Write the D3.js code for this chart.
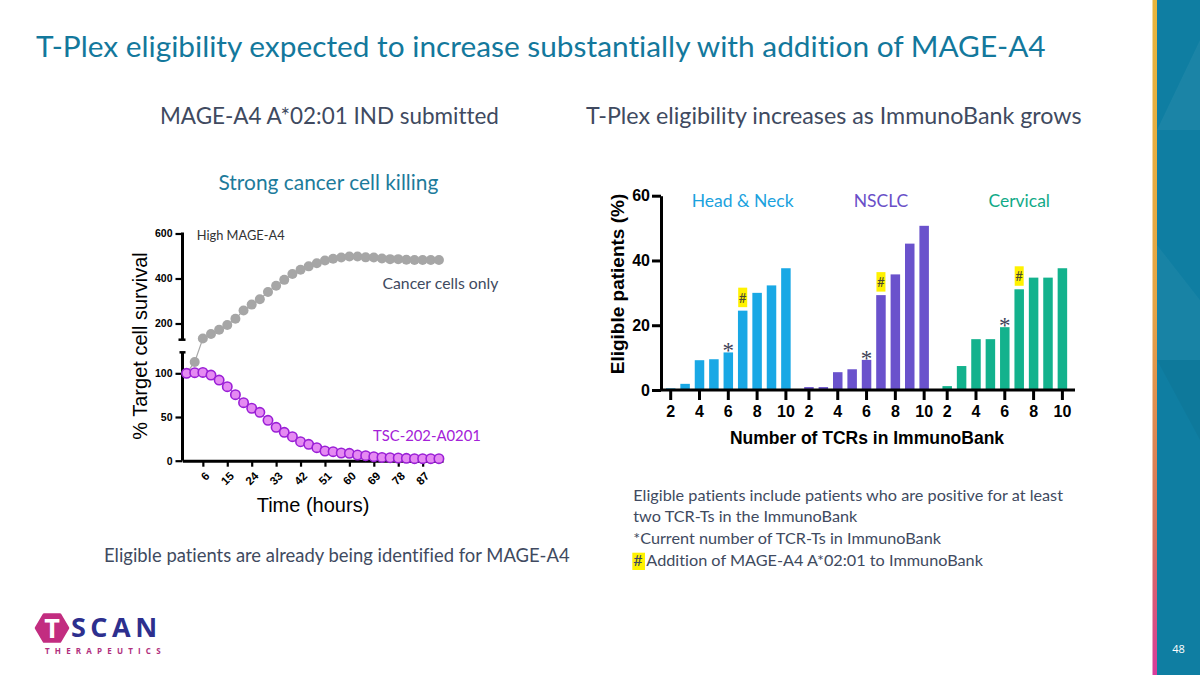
<!DOCTYPE html>
<html>
<head>
<meta charset="utf-8">
<script src="https://cdn.jsdelivr.net/npm/d3@7"></script>
<style>
  html, body { margin: 0; padding: 0; background: #fff; }
  svg { display: block; }
  text { font-variant-ligatures: none; font-feature-settings: "liga" 0, "clig" 0; }
</style>
</head>
<body>
<script>
// ---------- DATA ----------
// Left chart: cell survival over time
const hours = [0,3,6,9,12,15,18,21,24,27,30,33,36,39,42,45,48,51,54,57,60,63,66,69,72,75,78,81,84,87,90,93];
const cancerOnly = [100,113,133,153,172,193,221,258,284,308,340,368,394,420,439,454,468,480,488,493,498,498,494,493,489,486,486,483,482,482,482,482];
const tsc202 = [100,100.7,101,98,92.3,84.7,75.5,66.4,60,55.4,46.2,38.2,32.5,27.5,21.7,18.7,14.9,11.1,10.3,8.8,8.4,6.5,5.7,4.6,3.8,3.4,3.1,2.7,2.3,2.3,2.3,2.3];
const timeTicks = [6,15,24,33,42,51,60,69,78,87];
const upperTicks = [200,400,600];
const lowerTicks = [0,50,100];

// Right chart: eligible patients by number of TCRs
const groups = ["Head & Neck","NSCLC","Cervical"];
const tcrCounts = [2,3,4,5,6,7,8,9,10];
const headNeck = [0.5,1.9,9.2,9.5,11.6,24.5,30.0,32.3,37.6];
const nsclc = [0.9,0.9,5.5,6.4,9.3,29.3,35.7,45.2,50.7];
const cervical = [1.2,7.4,15.7,15.7,19.4,31.1,34.7,34.7,37.6];
const currentCount = 6;   // "*"
const mageCount = 7;      // "#"
const tcrTicks = [2,4,6,8,10];
const eligTicks = [0,20,40,60];

// ---------- SETUP ----------
const CAL = "Lato, 'Open Sans', sans-serif";
const ARIAL = "'Liberation Sans', Arial, sans-serif";
const SLATE = "#404a60";

const svg = d3.select("body").append("svg").attr("width",1200).attr("height",675);

function txt(g, s, o) {
  const size = o.size || 16;
  const t = g.append("text").text(s)
    .attr("x", o.x).attr("y", o.y)
    .attr("font-family", o.family || CAL)
    .attr("font-size", size)
    .attr("font-weight", o.weight || 400)
    .attr("fill", o.color || SLATE)
    .attr("text-anchor", o.anchor || "start");
  if (o.spacing) t.attr("letter-spacing", o.spacing);
  if (o.width) {
    const w = t.node().getComputedTextLength();
    if (w > 0) t.attr("font-size", size * o.width / w);
  }
  return t;
}

// ---------- RIGHT DECORATIVE PANEL ----------
const defs = svg.append("defs");
const grad = defs.append("linearGradient").attr("id","stripe").attr("x1",0).attr("y1",0).attr("x2",0).attr("y2",1);
grad.append("stop").attr("offset","0%").attr("stop-color","#e8b43c");
grad.append("stop").attr("offset","45%").attr("stop-color","#e5a445");
grad.append("stop").attr("offset","80%").attr("stop-color","#d8705c");
grad.append("stop").attr("offset","100%").attr("stop-color","#d93c9c");
svg.append("rect").attr("x",1157).attr("y",0).attr("width",43).attr("height",675).attr("fill","#0f7ea2");
svg.append("polygon").attr("points","1157,130 1200,40 1200,130").attr("fill","#ffffff").attr("opacity",0.05);
svg.append("polygon").attr("points","1157,245 1200,300 1200,360 1157,360").attr("fill","#ffffff").attr("opacity",0.04);
svg.append("polygon").attr("points","1157,360 1200,440 1200,360").attr("fill","#000000").attr("opacity",0.04);
svg.append("rect").attr("x",1152.5).attr("y",0).attr("width",4.5).attr("height",675).attr("fill","url(#stripe)");
txt(svg, "48", {x:1178.5, y:653, size:11, color:"#ffffff", anchor:"middle", family:"'Open Sans', sans-serif"});

// ---------- TITLES ----------
txt(svg, "T-Plex eligibility expected to increase substantially with addition of MAGE-A4",
    {x:36, y:57, size:30, color:"#13789c", width:1010});
txt(svg, "MAGE-A4 A*02:01 IND submitted", {x:160, y:124, size:22, color:SLATE, width:339});
txt(svg, "T-Plex eligibility increases as ImmunoBank grows", {x:586, y:124, size:22, color:SLATE, width:496});
txt(svg, "Strong cancer cell killing", {x:218.5, y:189.5, size:21, color:"#1d7b9b", width:220});

// ---------- LEFT CHART ----------
const L = svg.append("g");
const xL = d3.scaleLinear().domain([-1.5, 94.5]).range([182.5, 443]);
const yLo = d3.scaleLinear().domain([0,100]).range([460.7, 373.3]);
const yHi = d3.scaleLinear().domain([200,600]).range([323.5, 233.5]);
const BREAK = 125;
const yL = v => v < BREAK ? yLo(v) : yHi(v);
const axX = xL.range()[0];

// y axis upper segment
L.append("g").attr("transform",`translate(${axX},0)`)
  .call(d3.axisLeft(yHi).tickValues(upperTicks).tickSize(7).tickPadding(3).tickFormat(d3.format("d")))
  .call(g => g.select(".domain").remove())
  .call(g => g.selectAll(".tick line").attr("stroke","#000").attr("stroke-width",2.2))
  .call(g => g.selectAll(".tick text").attr("font-family",ARIAL).attr("font-weight",700).attr("font-size",10.5).attr("fill","#000"));
L.append("line").attr("x1",axX).attr("x2",axX).attr("y1",yHi(128)).attr("y2",yHi(600)-1)
  .attr("stroke","#000").attr("stroke-width",3);
L.append("line").attr("x1",axX-4).attr("x2",axX+3).attr("y1",yHi(128)).attr("y2",yHi(128))
  .attr("stroke","#000").attr("stroke-width",2.5);

// y axis lower segment
L.append("g").attr("transform",`translate(${axX},0)`)
  .call(d3.axisLeft(yLo).tickValues(lowerTicks).tickSize(7).tickPadding(3).tickFormat(d3.format("d")))
  .call(g => g.select(".domain").remove())
  .call(g => g.selectAll(".tick line").attr("stroke","#000").attr("stroke-width",2.2))
  .call(g => g.selectAll(".tick text").attr("font-family",ARIAL).attr("font-weight",700).attr("font-size",10.5).attr("fill","#000"));
L.append("line").attr("x1",axX).attr("x2",axX).attr("y1",yLo(0)).attr("y2",yLo(124))
  .attr("stroke","#000").attr("stroke-width",3);
L.append("line").attr("x1",axX-3).attr("x2",axX+3).attr("y1",yLo(124)).attr("y2",yLo(124))
  .attr("stroke","#000").attr("stroke-width",2.5);

// x axis
L.append("g").attr("transform",`translate(0,${yLo(0)})`)
  .call(d3.axisBottom(xL).tickValues(timeTicks).tickSize(6).tickSizeOuter(0))
  .call(g => g.select(".domain").attr("stroke","#000").attr("stroke-width",3))
  .call(g => g.selectAll(".tick line").attr("stroke","#000").attr("stroke-width",2.2))
  .call(g => g.selectAll(".tick text")
      .attr("font-family",ARIAL).attr("font-weight",700).attr("font-size",11.5).attr("fill","#000")
      .attr("text-anchor","end").attr("dy",null).attr("y",null)
      .attr("transform","translate(7,16) rotate(-45)"));

// series lines + points
const lineGen = d3.line().x((d,i) => xL(hours[i])).y(d => yL(d));
L.append("path").datum(cancerOnly).attr("d", lineGen).attr("fill","none").attr("stroke","#a8a8a8").attr("stroke-width",1.2);
L.selectAll("circle.gray").data(cancerOnly).join("circle").attr("class","gray")
  .attr("cx",(d,i)=>xL(hours[i])).attr("cy",d=>yL(d)).attr("r",5).attr("fill","#a6a6a6");
L.append("path").datum(tsc202).attr("d", lineGen).attr("fill","none").attr("stroke","#9a1fd6").attr("stroke-width",1);
L.selectAll("circle.purp").data(tsc202).join("circle").attr("class","purp")
  .attr("cx",(d,i)=>xL(hours[i])).attr("cy",d=>yL(d)).attr("r",4.7)
  .attr("fill","#e58af2").attr("stroke","#9a1fd6").attr("stroke-width",1.6);

// labels
txt(L, "High MAGE-A4", {x:196.7, y:240, size:13.5, color:"#333", width:88});
txt(L, "Cancer cells only", {x:382.5, y:288.5, size:15, color:SLATE, width:116});
txt(L, "TSC-202-A0201", {x:373, y:440.5, size:15, color:"#a421d8", width:108});
txt(L, "Time (hours)", {x:313, y:511.5, size:20, color:"#000", family:ARIAL, anchor:"middle"});
txt(L, "% Target cell survival", {x:0, y:0, size:20, color:"#000", family:ARIAL, anchor:"middle"})
  .attr("transform","translate(147,346) rotate(-90)");
txt(svg, "Eligible patients are already being identified for MAGE-A4", {x:104, y:562, size:17, color:SLATE, width:466});

// ---------- RIGHT CHART ----------
const R = svg.append("g");
const series = [headNeck, nsclc, cervical];
const barColors = ["#19a8e5","#6a52cc","#13b28d"];
const labelColors = ["#1ba2de","#6a4fc8","#12aa88"];
const xG = d3.scaleBand().domain(groups).range([663.5, 1069.6]).paddingInner(0.0625).paddingOuter(0);
const xB = d3.scaleBand().domain(tcrCounts).range([0, xG.bandwidth()]).paddingInner(0.34).paddingOuter(0.17);
const yR = d3.scaleLinear().domain([0,60]).range([390, 195.7]);

// y axis
R.append("g").attr("transform","translate(661,0)")
  .call(d3.axisLeft(yR).tickValues(eligTicks).tickSize(9).tickSizeOuter(0).tickPadding(2))
  .call(g => g.select(".domain").attr("stroke","#000").attr("stroke-width",3))
  .call(g => g.selectAll(".tick line").attr("stroke","#000").attr("stroke-width",3))
  .call(g => g.selectAll(".tick text").attr("font-family",ARIAL).attr("font-weight",700).attr("font-size",16).attr("fill","#000"));

groups.forEach((grp, gi) => {
  const gx = xG(grp);
  const gg = R.append("g").attr("transform",`translate(${gx},0)`);
  const data = tcrCounts.map((c,i) => ({c, v: series[gi][i]}));
  gg.selectAll("rect").data(data).join("rect")
    .attr("x", d => xB(d.c)).attr("width", xB.bandwidth())
    .attr("y", d => yR(d.v)).attr("height", d => yR(0) - yR(d.v))
    .attr("fill", barColors[gi]);
  // x axis ticks
  gg.append("g").attr("transform",`translate(0,${yR(0)})`)
    .call(d3.axisBottom(xB).tickValues(tcrTicks).tickSize(10).tickSizeOuter(0).tickPadding(6))
    .call(g => g.select(".domain").remove())
    .call(g => g.selectAll(".tick line").attr("stroke","#000").attr("stroke-width",3))
    .call(g => g.selectAll(".tick text").attr("font-family",ARIAL).attr("font-weight",700).attr("font-size",16).attr("fill","#000"));
  // asterisk
  const cur = data.find(d => d.c === currentCount);
  txt(gg, "*", {x: xB(cur.c) + xB.bandwidth()/2, y: yR(cur.v) + 6, size: 23, color:"#3e4258", anchor:"middle", family:"'Liberation Serif', serif"});
  // hash
  const mg = data.find(d => d.c === mageCount);
  const hx = xB(mg.c) + xB.bandwidth()/2;
  gg.append("rect").attr("x", hx - 4.5).attr("y", yR(mg.v) - 23).attr("width", 9).attr("height", 19.5).attr("fill","#fff200");
  txt(gg, "#", {x: hx, y: yR(mg.v) - 8, size: 13.5, color:"#4a4a30", anchor:"middle"});
  // group label
  txt(R, grp, {x: gx + xB(mageCount) + xB.bandwidth()/2, y: 207, size: 17.5, color: labelColors[gi], anchor:"middle"});
});
// x axis baseline
R.append("line").attr("x1",661).attr("x2",1075).attr("y1",yR(0)).attr("y2",yR(0)).attr("stroke","#000").attr("stroke-width",3);

txt(R, "Number of TCRs in ImmunoBank", {x:867, y:444, size:17.5, color:"#000", family:ARIAL, weight:700, anchor:"middle"});
txt(R, "Eligible patients (%)", {x:0, y:0, size:19, color:"#000", family:ARIAL, weight:700, anchor:"middle"})
  .attr("transform","translate(624,284) rotate(-90)");

// notes
const n1 = txt(svg, "Eligible patients include patients who are positive for at least", {x:633.3, y:500.5, size:16, color:SLATE, width:430});
const nSize = +n1.attr("font-size");
txt(svg, "two TCR-Ts in the ImmunoBank", {x:633.3, y:522, size:nSize, color:SLATE});
txt(svg, "*Current number of TCR-Ts in ImmunoBank", {x:633.3, y:544, size:nSize, color:SLATE});
svg.append("rect").attr("x",632.3).attr("y",552.7).attr("width",12.7).attr("height",17.3).attr("fill","#fff200");
txt(svg, "# Addition of MAGE-A4 A*02:01 to ImmunoBank", {x:633.3, y:566, size:nSize, color:SLATE});

// ---------- LOGO ----------
const logo = svg.append("g");
const hcx = 52, hcy = 628, hw = 16, hh = 13.5;
logo.append("polygon")
  .attr("points", [[hcx-hw,hcy],[hcx-hw/2,hcy-hh],[hcx+hw/2,hcy-hh],[hcx+hw,hcy],[hcx+hw/2,hcy+hh],[hcx-hw/2,hcy+hh]].map(p=>p.join(",")).join(" "))
  .attr("fill","#c22d80").attr("stroke","#c22d80").attr("stroke-width",2.5).attr("stroke-linejoin","round");
txt(logo, "T", {x:hcx, y:637.5, size:27, color:"#ffffff", anchor:"middle", family:"'Open Sans', sans-serif", weight:700});
txt(logo, "SCAN", {x:71, y:637, size:27, color:"#2d2f8e", family:"'Open Sans', sans-serif", weight:700, spacing:4.5});
txt(logo, "THERAPEUTICS", {x:45, y:653.5, size:8, color:"#b0307e", family:"'Open Sans', sans-serif", weight:700, spacing:5.2});
</script>
</body>
</html>
